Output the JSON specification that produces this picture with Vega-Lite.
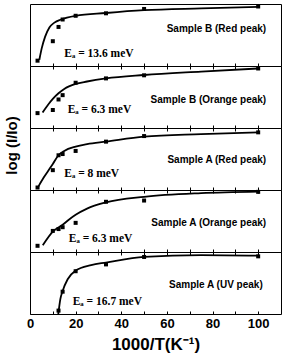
{
  "$schema": "https://vega.github.io/schema/vega-lite/v6.json",
  "padding": {"left": 3, "top": 2, "right": 3, "bottom": 0},
  "background": "white",
  "config": {"view": {"stroke": "black", "strokeWidth": 1}, "concat": {"spacing": 0}},
  "data": {"values": [
    {"panel": "p1", "kind": "pt", "x": 3.3, "v": 0.086},
    {"panel": "p1", "kind": "pt", "x": 10, "v": 0.40},
    {"panel": "p1", "kind": "pt", "x": 12.5, "v": 0.63},
    {"panel": "p1", "kind": "pt", "x": 14.3, "v": 0.75},
    {"panel": "p1", "kind": "pt", "x": 20, "v": 0.81},
    {"panel": "p1", "kind": "pt", "x": 33.3, "v": 0.85},
    {"panel": "p1", "kind": "pt", "x": 50, "v": 0.92},
    {"panel": "p1", "kind": "pt", "x": 100, "v": 0.96},
    {"panel": "p1", "kind": "fit", "x": 4.1, "v": 0.10},
    {"panel": "p1", "kind": "fit", "x": 5.1, "v": 0.28},
    {"panel": "p1", "kind": "fit", "x": 6.6, "v": 0.47},
    {"panel": "p1", "kind": "fit", "x": 8.5, "v": 0.62},
    {"panel": "p1", "kind": "fit", "x": 10.7, "v": 0.70},
    {"panel": "p1", "kind": "fit", "x": 13.6, "v": 0.75},
    {"panel": "p1", "kind": "fit", "x": 20, "v": 0.81},
    {"panel": "p1", "kind": "fit", "x": 33.3, "v": 0.855},
    {"panel": "p1", "kind": "fit", "x": 50, "v": 0.90},
    {"panel": "p1", "kind": "fit", "x": 75, "v": 0.93},
    {"panel": "p1", "kind": "fit", "x": 100, "v": 0.955},
    {"panel": "p1", "kind": "sample", "x": 103.5, "v": 0.6, "text": "Sample B (Red peak)"},
    {"panel": "p1", "kind": "ea", "x": 15, "v": 0.2, "text": "Eₐ = 13.6 meV"},
    {"panel": "p2", "kind": "pt", "x": 3.3, "v": 0.24},
    {"panel": "p2", "kind": "pt", "x": 10, "v": 0.29},
    {"panel": "p2", "kind": "pt", "x": 12.5, "v": 0.46},
    {"panel": "p2", "kind": "pt", "x": 14.3, "v": 0.53},
    {"panel": "p2", "kind": "pt", "x": 20, "v": 0.73},
    {"panel": "p2", "kind": "pt", "x": 33.3, "v": 0.80},
    {"panel": "p2", "kind": "pt", "x": 50, "v": 0.85},
    {"panel": "p2", "kind": "pt", "x": 100, "v": 0.96},
    {"panel": "p2", "kind": "fit", "x": 5.5, "v": 0.25},
    {"panel": "p2", "kind": "fit", "x": 8, "v": 0.38},
    {"panel": "p2", "kind": "fit", "x": 10, "v": 0.47},
    {"panel": "p2", "kind": "fit", "x": 12.5, "v": 0.56},
    {"panel": "p2", "kind": "fit", "x": 15, "v": 0.63},
    {"panel": "p2", "kind": "fit", "x": 20, "v": 0.71},
    {"panel": "p2", "kind": "fit", "x": 25, "v": 0.75},
    {"panel": "p2", "kind": "fit", "x": 33.3, "v": 0.80},
    {"panel": "p2", "kind": "fit", "x": 50, "v": 0.855},
    {"panel": "p2", "kind": "fit", "x": 75, "v": 0.91},
    {"panel": "p2", "kind": "fit", "x": 100, "v": 0.96},
    {"panel": "p2", "kind": "sample", "x": 103.5, "v": 0.45, "text": "Sample B (Orange peak)"},
    {"panel": "p2", "kind": "ea", "x": 16.5, "v": 0.29, "text": "Eₐ = 6.3 meV"},
    {"panel": "p3", "kind": "pt", "x": 3.3, "v": 0.04},
    {"panel": "p3", "kind": "pt", "x": 10, "v": 0.32},
    {"panel": "p3", "kind": "pt", "x": 12.5, "v": 0.56},
    {"panel": "p3", "kind": "pt", "x": 14.3, "v": 0.58},
    {"panel": "p3", "kind": "pt", "x": 20, "v": 0.63},
    {"panel": "p3", "kind": "pt", "x": 33.3, "v": 0.78},
    {"panel": "p3", "kind": "pt", "x": 50, "v": 0.87},
    {"panel": "p3", "kind": "pt", "x": 100, "v": 0.93},
    {"panel": "p3", "kind": "fit", "x": 3.6, "v": 0.05},
    {"panel": "p3", "kind": "fit", "x": 6, "v": 0.20},
    {"panel": "p3", "kind": "fit", "x": 8, "v": 0.31},
    {"panel": "p3", "kind": "fit", "x": 10, "v": 0.42},
    {"panel": "p3", "kind": "fit", "x": 12.5, "v": 0.56},
    {"panel": "p3", "kind": "fit", "x": 15, "v": 0.63},
    {"panel": "p3", "kind": "fit", "x": 20, "v": 0.70},
    {"panel": "p3", "kind": "fit", "x": 25, "v": 0.74},
    {"panel": "p3", "kind": "fit", "x": 33.3, "v": 0.78},
    {"panel": "p3", "kind": "fit", "x": 50, "v": 0.86},
    {"panel": "p3", "kind": "fit", "x": 75, "v": 0.90},
    {"panel": "p3", "kind": "fit", "x": 100, "v": 0.93},
    {"panel": "p3", "kind": "sample", "x": 103.5, "v": 0.48, "text": "Sample A (Red peak)"},
    {"panel": "p3", "kind": "ea", "x": 15, "v": 0.26, "text": "Eₐ = 8 meV"},
    {"panel": "p4", "kind": "pt", "x": 3.3, "v": 0.10},
    {"panel": "p4", "kind": "pt", "x": 10, "v": 0.34},
    {"panel": "p4", "kind": "pt", "x": 12.5, "v": 0.37},
    {"panel": "p4", "kind": "pt", "x": 14.3, "v": 0.40},
    {"panel": "p4", "kind": "pt", "x": 20, "v": 0.47},
    {"panel": "p4", "kind": "pt", "x": 33.3, "v": 0.81},
    {"panel": "p4", "kind": "pt", "x": 50, "v": 0.83},
    {"panel": "p4", "kind": "pt", "x": 100, "v": 0.97},
    {"panel": "p4", "kind": "fit", "x": 5.6, "v": 0.11},
    {"panel": "p4", "kind": "fit", "x": 10, "v": 0.33},
    {"panel": "p4", "kind": "fit", "x": 14.3, "v": 0.44},
    {"panel": "p4", "kind": "fit", "x": 17, "v": 0.52},
    {"panel": "p4", "kind": "fit", "x": 20, "v": 0.60},
    {"panel": "p4", "kind": "fit", "x": 25, "v": 0.70},
    {"panel": "p4", "kind": "fit", "x": 33.3, "v": 0.80},
    {"panel": "p4", "kind": "fit", "x": 50, "v": 0.89},
    {"panel": "p4", "kind": "fit", "x": 75, "v": 0.95},
    {"panel": "p4", "kind": "fit", "x": 100, "v": 0.975},
    {"panel": "p4", "kind": "sample", "x": 103.5, "v": 0.46, "text": "Sample A (Orange peak)"},
    {"panel": "p4", "kind": "ea", "x": 17, "v": 0.21, "text": "Eₐ = 6.3 meV"},
    {"panel": "p5", "kind": "pt", "x": 12.5, "v": 0.055},
    {"panel": "p5", "kind": "pt", "x": 14.3, "v": 0.36},
    {"panel": "p5", "kind": "pt", "x": 20, "v": 0.69},
    {"panel": "p5", "kind": "pt", "x": 33.3, "v": 0.80},
    {"panel": "p5", "kind": "pt", "x": 50, "v": 0.92},
    {"panel": "p5", "kind": "pt", "x": 100, "v": 0.93},
    {"panel": "p5", "kind": "fit", "x": 12.4, "v": 0.0},
    {"panel": "p5", "kind": "fit", "x": 13.3, "v": 0.24},
    {"panel": "p5", "kind": "fit", "x": 14.3, "v": 0.37},
    {"panel": "p5", "kind": "fit", "x": 16.5, "v": 0.56},
    {"panel": "p5", "kind": "fit", "x": 20, "v": 0.70},
    {"panel": "p5", "kind": "fit", "x": 26.8, "v": 0.79},
    {"panel": "p5", "kind": "fit", "x": 33.3, "v": 0.83},
    {"panel": "p5", "kind": "fit", "x": 50, "v": 0.92},
    {"panel": "p5", "kind": "fit", "x": 75, "v": 0.95},
    {"panel": "p5", "kind": "fit", "x": 100, "v": 0.94},
    {"panel": "p5", "kind": "sample", "x": 102, "v": 0.46, "text": "Sample A (UV peak)"},
    {"panel": "p5", "kind": "ea", "x": 18.7, "v": 0.2, "text": "Eₐ = 16.7 meV"}
  ]},
  "bounds": "flush",
  "spacing": 0,
  "vconcat": [
    {
      "width": 251, "height": 62,
      "resolve": {"axis": {"x": "independent"}},
      "layer": [
        {"transform": [{"filter": "datum.panel=='p1' && datum.kind=='pt'"}],
         "mark": {"type": "square", "size": 16, "color": "black", "opacity": 1},
         "encoding": {
           "x": {"field": "x", "type": "quantitative", "scale": {"domain": [0, 110], "nice": false}, "axis": {"orient": "bottom", "values": [10,20,30,40,50,60,70,80,90,100], "tickSize": -3, "tickColor": "black", "labels": false, "title": null, "domain": false, "grid": false}},
           "y": {"field": "v", "type": "quantitative", "scale": {"domain": [0, 1], "nice": false}, "axis": null}}},
        {"transform": [{"filter": "datum.panel=='p1' && datum.kind=='fit'"}],
         "mark": {"type": "line", "color": "black", "strokeWidth": 1.8, "interpolate": "monotone"},
         "encoding": {
           "x": {"field": "x", "type": "quantitative", "axis": null},
           "y": {"field": "v", "type": "quantitative", "axis": null}}},
        {"transform": [{"filter": "datum.panel=='p1' && datum.kind=='sample'"}],
         "mark": {"type": "text", "align": "right", "baseline": "middle", "font": "Liberation Sans", "fontWeight": "bold", "fontSize": 10, "color": "black"},
         "encoding": {"x": {"field": "x", "type": "quantitative", "axis": null}, "y": {"field": "v", "type": "quantitative", "axis": null}, "text": {"field": "text"}}},
        {"transform": [{"filter": "datum.panel=='p1' && datum.kind=='ea'"}],
         "mark": {"type": "text", "align": "left", "baseline": "middle", "font": "Liberation Serif", "fontWeight": "bold", "fontSize": 11.5, "color": "black"},
         "encoding": {"x": {"field": "x", "type": "quantitative", "axis": null}, "y": {"field": "v", "type": "quantitative", "axis": null}, "text": {"field": "text"}}}
      ]
    },
    {
      "width": 251, "height": 62,
      "resolve": {"axis": {"x": "independent"}},
      "layer": [
        {"transform": [{"filter": "datum.panel=='p2' && datum.kind=='pt'"}],
         "mark": {"type": "square", "size": 16, "color": "black", "opacity": 1},
         "encoding": {
           "x": {"field": "x", "type": "quantitative", "scale": {"domain": [0, 110], "nice": false}, "axis": {"orient": "bottom", "values": [10,20,30,40,50,60,70,80,90,100], "tickSize": -3, "tickColor": "black", "labels": false, "title": null, "domain": false, "grid": false}},
           "y": {"field": "v", "type": "quantitative", "scale": {"domain": [0, 1], "nice": false}, "axis": null}}},
        {"transform": [{"filter": "datum.panel=='p2' && datum.kind=='fit'"}],
         "mark": {"type": "line", "color": "black", "strokeWidth": 1.8, "interpolate": "monotone"},
         "encoding": {
           "x": {"field": "x", "type": "quantitative", "axis": {"orient": "top", "values": [10,20,30,40,50,60,70,80,90,100], "tickSize": -3, "tickColor": "black", "labels": false, "title": null, "domain": false, "grid": false}},
           "y": {"field": "v", "type": "quantitative", "axis": null}}},
        {"transform": [{"filter": "datum.panel=='p2' && datum.kind=='sample'"}],
         "mark": {"type": "text", "align": "right", "baseline": "middle", "font": "Liberation Sans", "fontWeight": "bold", "fontSize": 10, "color": "black"},
         "encoding": {"x": {"field": "x", "type": "quantitative", "axis": null}, "y": {"field": "v", "type": "quantitative", "axis": null}, "text": {"field": "text"}}},
        {"transform": [{"filter": "datum.panel=='p2' && datum.kind=='ea'"}],
         "mark": {"type": "text", "align": "left", "baseline": "middle", "font": "Liberation Serif", "fontWeight": "bold", "fontSize": 11.5, "color": "black"},
         "encoding": {"x": {"field": "x", "type": "quantitative", "axis": null}, "y": {"field": "v", "type": "quantitative", "axis": null}, "text": {"field": "text"}}}
      ]
    },
    {
      "width": 251, "height": 62,
      "resolve": {"axis": {"x": "independent"}},
      "layer": [
        {"transform": [{"filter": "datum.panel=='p3' && datum.kind=='pt'"}],
         "mark": {"type": "square", "size": 16, "color": "black", "opacity": 1},
         "encoding": {
           "x": {"field": "x", "type": "quantitative", "scale": {"domain": [0, 110], "nice": false}, "axis": {"orient": "bottom", "values": [10,20,30,40,50,60,70,80,90,100], "tickSize": -3, "tickColor": "black", "labels": false, "title": null, "domain": false, "grid": false}},
           "y": {"field": "v", "type": "quantitative", "scale": {"domain": [0, 1], "nice": false}, "axis": {"title": "log (I/Io)", "titleFont": "Liberation Sans", "titleFontWeight": "bold", "titleFontSize": 15, "titleColor": "black", "titlePadding": 11, "titleY": 17, "labels": false, "ticks": false, "domain": false, "grid": false}}}},
        {"transform": [{"filter": "datum.panel=='p3' && datum.kind=='fit'"}],
         "mark": {"type": "line", "color": "black", "strokeWidth": 1.8, "interpolate": "monotone"},
         "encoding": {
           "x": {"field": "x", "type": "quantitative", "axis": {"orient": "top", "values": [10,20,30,40,50,60,70,80,90,100], "tickSize": -3, "tickColor": "black", "labels": false, "title": null, "domain": false, "grid": false}},
           "y": {"field": "v", "type": "quantitative", "axis": {"title": "log (I/Io)", "titleFont": "Liberation Sans", "titleFontWeight": "bold", "titleFontSize": 15, "titleColor": "black", "titlePadding": 11, "titleY": 17, "labels": false, "ticks": false, "domain": false, "grid": false}}}},
        {"transform": [{"filter": "datum.panel=='p3' && datum.kind=='sample'"}],
         "mark": {"type": "text", "align": "right", "baseline": "middle", "font": "Liberation Sans", "fontWeight": "bold", "fontSize": 10, "color": "black"},
         "encoding": {"x": {"field": "x", "type": "quantitative", "axis": null}, "y": {"field": "v", "type": "quantitative", "axis": {"title": "log (I/Io)", "titleFont": "Liberation Sans", "titleFontWeight": "bold", "titleFontSize": 15, "titleColor": "black", "titlePadding": 11, "titleY": 17, "labels": false, "ticks": false, "domain": false, "grid": false}}, "text": {"field": "text"}}},
        {"transform": [{"filter": "datum.panel=='p3' && datum.kind=='ea'"}],
         "mark": {"type": "text", "align": "left", "baseline": "middle", "font": "Liberation Serif", "fontWeight": "bold", "fontSize": 11.5, "color": "black"},
         "encoding": {"x": {"field": "x", "type": "quantitative", "axis": null}, "y": {"field": "v", "type": "quantitative", "axis": {"title": "log (I/Io)", "titleFont": "Liberation Sans", "titleFontWeight": "bold", "titleFontSize": 15, "titleColor": "black", "titlePadding": 11, "titleY": 17, "labels": false, "ticks": false, "domain": false, "grid": false}}, "text": {"field": "text"}}}
      ]
    },
    {
      "width": 251, "height": 62,
      "resolve": {"axis": {"x": "independent"}},
      "layer": [
        {"transform": [{"filter": "datum.panel=='p4' && datum.kind=='pt'"}],
         "mark": {"type": "square", "size": 16, "color": "black", "opacity": 1},
         "encoding": {
           "x": {"field": "x", "type": "quantitative", "scale": {"domain": [0, 110], "nice": false}, "axis": {"orient": "bottom", "values": [10,20,30,40,50,60,70,80,90,100], "tickSize": -3, "tickColor": "black", "labels": false, "title": null, "domain": false, "grid": false}},
           "y": {"field": "v", "type": "quantitative", "scale": {"domain": [0, 1], "nice": false}, "axis": null}}},
        {"transform": [{"filter": "datum.panel=='p4' && datum.kind=='fit'"}],
         "mark": {"type": "line", "color": "black", "strokeWidth": 1.8, "interpolate": "monotone"},
         "encoding": {
           "x": {"field": "x", "type": "quantitative", "axis": {"orient": "top", "values": [10,20,30,40,50,60,70,80,90,100], "tickSize": -3, "tickColor": "black", "labels": false, "title": null, "domain": false, "grid": false}},
           "y": {"field": "v", "type": "quantitative", "axis": null}}},
        {"transform": [{"filter": "datum.panel=='p4' && datum.kind=='sample'"}],
         "mark": {"type": "text", "align": "right", "baseline": "middle", "font": "Liberation Sans", "fontWeight": "bold", "fontSize": 10, "color": "black"},
         "encoding": {"x": {"field": "x", "type": "quantitative", "axis": null}, "y": {"field": "v", "type": "quantitative", "axis": null}, "text": {"field": "text"}}},
        {"transform": [{"filter": "datum.panel=='p4' && datum.kind=='ea'"}],
         "mark": {"type": "text", "align": "left", "baseline": "middle", "font": "Liberation Serif", "fontWeight": "bold", "fontSize": 11.5, "color": "black"},
         "encoding": {"x": {"field": "x", "type": "quantitative", "axis": null}, "y": {"field": "v", "type": "quantitative", "axis": null}, "text": {"field": "text"}}}
      ]
    },
    {
      "width": 251, "height": 62,
      "resolve": {"axis": {"x": "independent"}},
      "layer": [
        {"transform": [{"filter": "datum.panel=='p5' && datum.kind=='pt'"}],
         "mark": {"type": "square", "size": 16, "color": "black", "opacity": 1},
         "encoding": {
           "x": {"field": "x", "type": "quantitative", "scale": {"domain": [0, 110], "nice": false}, "axis": {"orient": "bottom", "values": [0,10,20,30,40,50,60,70,80,90,100], "tickSize": -3, "tickColor": "black", "labelExpr": "datum.value % 20 == 0 ? datum.label : ''", "labelFont": "Liberation Sans", "labelFontWeight": "bold", "labelFontSize": 13, "labelColor": "black", "labelPadding": 6, "labelFlush": false, "labelOverlap": false, "title": "1000/T(K⁻¹)", "titleFont": "Liberation Sans", "titleFontWeight": "bold", "titleFontSize": 17, "titleColor": "black", "titlePadding": 6, "domain": false, "grid": false}},
           "y": {"field": "v", "type": "quantitative", "scale": {"domain": [0, 1], "nice": false}, "axis": null}}},
        {"transform": [{"filter": "datum.panel=='p5' && datum.kind=='fit'"}],
         "mark": {"type": "line", "color": "black", "strokeWidth": 1.8, "interpolate": "monotone"},
         "encoding": {
           "x": {"field": "x", "type": "quantitative", "axis": {"orient": "top", "values": [10,20,30,40,50,60,70,80,90,100], "tickSize": -3, "tickColor": "black", "labels": false, "title": null, "domain": false, "grid": false}},
           "y": {"field": "v", "type": "quantitative", "axis": null}}},
        {"transform": [{"filter": "datum.panel=='p5' && datum.kind=='sample'"}],
         "mark": {"type": "text", "align": "right", "baseline": "middle", "font": "Liberation Sans", "fontWeight": "bold", "fontSize": 10, "color": "black"},
         "encoding": {"x": {"field": "x", "type": "quantitative", "axis": null}, "y": {"field": "v", "type": "quantitative", "axis": null}, "text": {"field": "text"}}},
        {"transform": [{"filter": "datum.panel=='p5' && datum.kind=='ea'"}],
         "mark": {"type": "text", "align": "left", "baseline": "middle", "font": "Liberation Serif", "fontWeight": "bold", "fontSize": 11.5, "color": "black"},
         "encoding": {"x": {"field": "x", "type": "quantitative", "axis": null}, "y": {"field": "v", "type": "quantitative", "axis": null}, "text": {"field": "text"}}}
      ]
    }
  ]
}
